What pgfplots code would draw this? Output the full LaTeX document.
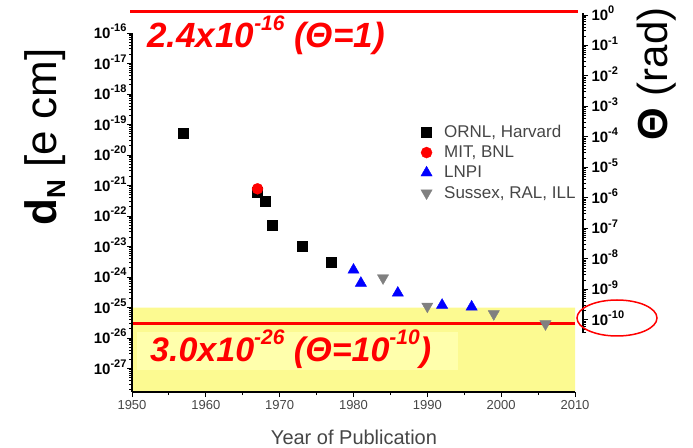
\documentclass[border=0pt]{standalone}
\usepackage{fontspec}
\setmainfont{Liberation Sans}
\usepackage{pgfplots}
\pgfplotsset{compat=1.18}
\definecolor{myyellow}{RGB}{252,250,145}
\definecolor{lightyellow}{RGB}{255,255,172}
\definecolor{txtgray}{RGB}{70,70,70}
\definecolor{mkgray}{RGB}{128,128,128}
\newcommand{\tenpow}[1]{\textbf{10}\raisebox{0.45em}{\fontsize{11}{11}\selectfont\textbf{#1}}}
\begin{document}
\begin{tikzpicture}[x=1pt,y=1pt]
\useasboundingbox (0,0) rectangle (693,447);
\begin{axis}[
  at={(132pt,55pt)}, anchor=south west,
  scale only axis, width=443pt, height=359pt,
  xmin=1950, xmax=2010,
  ymode=log, ymin=1.698e-28, ymax=1e-16,
  axis x line*=bottom, axis y line*=left,
  axis line style={line width=1.2pt},
  every tick/.style={black, line width=1pt},
  tick align=outside,
  major tick length=5pt, minor tick length=3pt,
  xtick={1950,1960,1970,1980,1990,2000,2010},
  xticklabels={1950,1960,1970,1980,1990,2000,2010},
  minor x tick num=1,
  xticklabel style={font=\fontsize{13}{13}\selectfont, text=txtgray},
  max space between ticks=20pt,
  yticklabel={\pgfmathtruncatemacro\myexp{round(\tick/2.302585093)}\tenpow{\myexp}},
  yticklabel style={font=\fontsize{15}{15}\selectfont, anchor=base east, yshift=-5.5pt, xshift=3pt},
  clip=false, axis on top,
  legend style={at={(0.645,0.755)}, anchor=north west, draw=none, fill=none,
    font=\fontsize{17}{17}\selectfont, text=txtgray, row sep=3pt,
    /tikz/every odd column/.append style={column sep=10pt}},
  legend cell align=left,
]
\addplot[fill=myyellow, draw=none, forget plot] coordinates {(1950,1.698e-28)(2010,1.698e-28)(2010,1e-25)(1950,1e-25)(1950,1.698e-28)};
\addplot[red, line width=3pt, forget plot] coordinates {(1950,3e-26)(2010,3e-26)};
\addplot[only marks, mark=square*, mark size=5pt, black] coordinates {(1957,5e-20)(1967,6.2e-22)(1968,3e-22)(1969,5e-23)(1973,1e-23)(1977,3e-24)};
\addlegendentry{ORNL, Harvard}
\addplot[only marks, mark=*, mark size=5.5pt, red] coordinates {(1967,7.8e-22)};
\addlegendentry{MIT, BNL}
\addplot[only marks, mark=triangle*, mark size=6.5pt, blue] coordinates {(1980,1.7e-24)(1981,6.3e-25)(1986,3e-25)(1992,1.2e-25)(1996,1.05e-25)};
\addlegendentry{LNPI}
\addplot[only marks, mark=triangle*, mark options={rotate=180}, mark size=6.5pt, mkgray] coordinates {(1984,9.3e-25)(1990,1.1e-25)(1999,6.2e-26)(2006,2.9e-26)};
\addlegendentry{Sussex, RAL, ILL}
\end{axis}
\begin{axis}[
  at={(582pt,114pt)}, anchor=south west,
  scale only axis, width=1pt, height=320pt,
  xmin=0, xmax=1,
  ymode=log, ymin=3.715e-11, ymax=1.164,
  axis x line=none, axis y line*=right,
  axis line style={line width=1.2pt},
  every tick/.style={black, line width=1pt},
  tick align=outside,
  major tick length=5pt, minor tick length=3pt,
  max space between ticks=20pt,
  yticklabel={\pgfmathtruncatemacro\myexp{round(\tick/2.302585093)}\tenpow{\myexp}},
  yticklabel style={font=\fontsize{15}{15}\selectfont, anchor=base west, yshift=-5.5pt},
]
\addplot[draw=none] coordinates {(0,1e-5)};
\end{axis}
% annotations
\fill[lightyellow] (137,77) rectangle (458,115);
\draw[red, line width=3pt] (130,435) -- (578,435);
\node[anchor=base west, text=red, font=\fontsize{35}{35}\selectfont\bfseries\itshape, inner sep=0pt] at (147,399)
  {2.4x10\raisebox{0.5em}{\fontsize{21}{21}\selectfont -16} (Θ=1)};
\node[anchor=base west, text=red, font=\fontsize{34}{34}\selectfont\bfseries\itshape, inner sep=0pt] at (150,85)
  {3.0x10\raisebox{0.5em}{\fontsize{21}{21}\selectfont -26} (Θ=10\raisebox{0.5em}{\fontsize{21}{21}\selectfont -10})};
\draw[red, line width=1.5pt] (617,129) ellipse [x radius=40, y radius=18];
\node[rotate=90, font=\fontsize{44}{44}\selectfont] at (45,310)
  {\textbf{d}\raisebox{-0.2em}{\fontsize{26}{26}\selectfont\textbf{N}} [e cm]};
\node[rotate=90, font=\fontsize{42}{42}\selectfont] at (657,373) {\textbf{Θ} (rad)};
\node[font=\fontsize{20}{20}\selectfont, text=txtgray] at (354,10) {Year of Publication};
\end{tikzpicture}
\end{document}
